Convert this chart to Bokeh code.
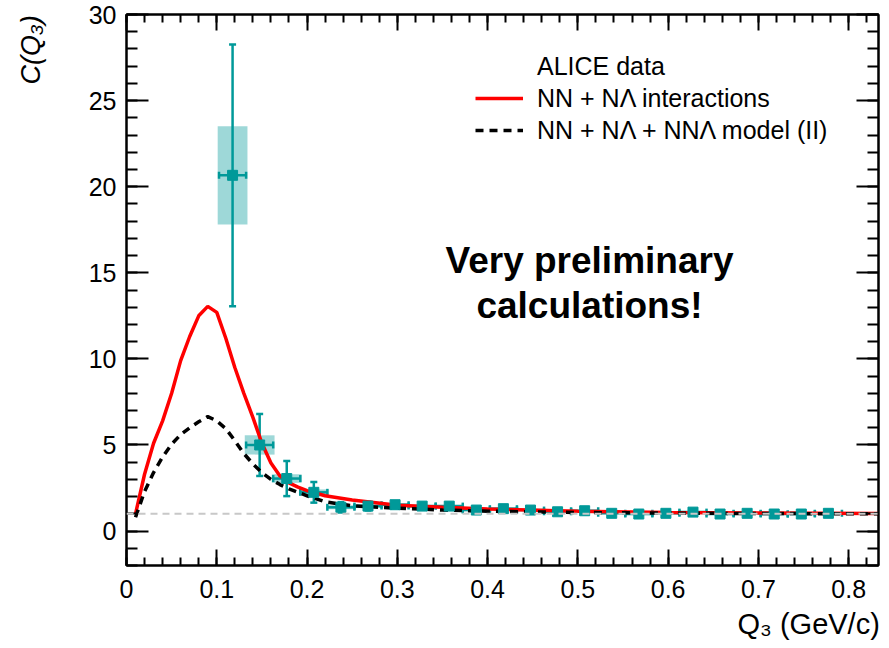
from bokeh.plotting import figure
from bokeh.models import (ColumnDataSource, FixedTicker, LinearAxis, Range1d, Whisker,
                          TeeHead, Label, Legend, LegendItem, Span)
from bokeh.embed import file_html
from bokeh.resources import INLINE

# ---------------- data ----------------
q3 = [0.1175, 0.1475, 0.1775, 0.2075, 0.2375, 0.2675, 0.2975, 0.3275, 0.3575, 0.3875,
      0.4175, 0.4475, 0.4775, 0.5075, 0.5375, 0.5675, 0.5975, 0.6275, 0.6575, 0.6875,
      0.7175, 0.7475, 0.7775]
c_val = [20.66, 5.00, 3.05, 2.25, 1.38, 1.45, 1.53, 1.45, 1.45, 1.22,
         1.30, 1.22, 1.12, 1.18, 1.03, 0.99, 1.03, 1.10, 0.99, 1.03,
         0.99, 0.99, 1.03]
stat_err = [7.6, 1.8, 1.02, 0.6, 0.3, 0.25, 0.2, 0.18, 0.16, 0.15,
            0.14, 0.13, 0.12, 0.12, 0.11, 0.11, 0.1, 0.1, 0.1, 0.1,
            0.1, 0.1, 0.1]
sys_err = [2.85, 0.56, 0.25, 0.17, 0.12, 0.1, 0.09, 0.08, 0.08, 0.07,
           0.07, 0.06, 0.06, 0.06, 0.05, 0.05, 0.05, 0.05, 0.05, 0.05,
           0.05, 0.05, 0.05]
bin_half = [0.015] * len(q3)
sys_half = [0.0165] * len(q3)

red_x = [0.01, 0.02, 0.03, 0.04, 0.05, 0.06, 0.07, 0.08, 0.09, 0.10, 0.11, 0.12, 0.13,
         0.14, 0.15, 0.16, 0.17, 0.18, 0.19, 0.20, 0.22, 0.25, 0.30, 0.35, 0.40, 0.50,
         0.60, 0.70, 0.833]
red_y = [1.0, 3.3, 5.1, 6.4, 8.0, 9.9, 11.3, 12.5, 13.05, 12.7, 11.2, 9.5, 8.0,
         6.6, 5.1, 3.95, 3.2, 2.8, 2.55, 2.35, 2.05, 1.8, 1.5, 1.38, 1.28, 1.15,
         1.08, 1.05, 1.02]

blk_x = [0.01, 0.02, 0.03, 0.04, 0.05, 0.06, 0.07, 0.08, 0.09, 0.10, 0.11, 0.12, 0.13,
         0.14, 0.15, 0.16, 0.17, 0.18, 0.19, 0.20, 0.22, 0.25, 0.30, 0.35, 0.40, 0.50,
         0.60, 0.70, 0.833]
blk_y = [0.8, 2.3, 3.4, 4.3, 5.05, 5.6, 6.0, 6.35, 6.65, 6.4, 5.95, 5.25, 4.5,
         3.9, 3.4, 3.0, 2.7, 2.45, 2.25, 2.05, 1.7, 1.47, 1.33, 1.22, 1.15, 1.08,
         1.04, 1.02, 1.0]

baseline_level = 1.0
x_major = [0, 0.1, 0.2, 0.3, 0.4, 0.5, 0.6, 0.7, 0.8]
x_minor = [round(i * 0.02, 2) for i in range(0, 42)]
y_major = [0, 5, 10, 15, 20, 25, 30]
y_minor = list(range(-2, 31))

legend_labels = ["ALICE data", "NN + N\u039b interactions", "NN + N\u039b + NN\u039b model (II)"]
x_title = "Q\u2083  (GeV/c)"
y_title = "C(Q\u2083)"
note_lines = ["Very preliminary", "calculations!"]

# ---------------- layout geometry ----------------
X0, X1 = 0.0, 0.833
Y0, Y1 = -2.0, 30.0
FL, FT, FW, FH = 126, 14, 752, 551   # frame left/top/width/height (canvas px)
W, H = 884, 646

def px2x(px):
    return X0 + (px - FL) * (X1 - X0) / FW

def py2y(py):
    return Y1 - (py - FT) * (Y1 - Y0) / FH

TEAL = "#009999"
FONT = "Liberation Sans"
NBSP = "\u00a0"

p = figure(width=W, height=H, output_backend="svg", toolbar_location=None,
           x_range=Range1d(X0, X1), y_range=Range1d(Y0, Y1),
           min_border_left=FL, min_border_top=FT,
           min_border_right=W - FL - FW, min_border_bottom=H - FT - FH)
p.background_fill_color = "white"
p.border_fill_color = "white"
p.outline_line_color = "black"
p.outline_line_width = 2
p.xgrid.grid_line_color = None
p.ygrid.grid_line_color = None

p.add_layout(Span(location=baseline_level, dimension="width", line_color="#c8c8c8",
                  line_width=2, line_dash="7 5"))

src = ColumnDataSource(dict(
    x=q3, y=c_val,
    ylo=[v - e for v, e in zip(c_val, stat_err)],
    yhi=[v + e for v, e in zip(c_val, stat_err)],
    xlo=[x - h for x, h in zip(q3, bin_half)],
    xhi=[x + h for x, h in zip(q3, bin_half)],
    bl=[x - h for x, h in zip(q3, sys_half)],
    br=[x + h for x, h in zip(q3, sys_half)],
    bb=[v - e for v, e in zip(c_val, sys_err)],
    bt=[v + e for v, e in zip(c_val, sys_err)],
))

p.quad(left="bl", right="br", bottom="bb", top="bt", source=src,
       fill_color=TEAL, fill_alpha=0.38, line_color=None)

r_red = p.line(red_x, red_y, line_color="#ff0000", line_width=3.5)
r_blk = p.line(blk_x, blk_y, line_color="black", line_width=3.5, line_dash="8 6")

p.add_layout(Whisker(source=src, base="x", lower="ylo", upper="yhi", dimension="height",
                     line_color=TEAL, line_width=2.5,
                     upper_head=TeeHead(size=7, line_color=TEAL, line_width=2.5),
                     lower_head=TeeHead(size=7, line_color=TEAL, line_width=2.5)))
p.add_layout(Whisker(source=src, base="y", lower="xlo", upper="xhi", dimension="width",
                     line_color=TEAL, line_width=2.5,
                     upper_head=TeeHead(size=7, line_color=TEAL, line_width=2.5),
                     lower_head=TeeHead(size=7, line_color=TEAL, line_width=2.5)))
r_pts = p.scatter("x", "y", source=src, marker="square", size=10,
                  fill_color=TEAL, line_color=TEAL)

r_dummy = p.scatter([], [], marker="square", size=10, fill_alpha=0, line_alpha=0)

# ---------------- axes ----------------
def style_axis(ax, tick_in, minor_in, ticks, labels=True):
    ax.axis_line_width = 2
    ax.major_tick_in = tick_in
    ax.major_tick_out = 0
    ax.minor_tick_in = minor_in
    ax.minor_tick_out = 0
    ax.major_tick_line_width = 2
    ax.minor_tick_line_width = 2
    ax.major_tick_line_color = "black"
    ax.minor_tick_line_color = "black"
    if labels:
        ax.major_label_text_font = FONT
        ax.major_label_text_font_size = "25px"
        ax.major_label_text_color = "black"
    else:
        ax.major_label_overrides = {t: "" for t in ticks}
        ax.major_label_text_font_size = "8px"
        ax.major_label_standoff = 0

# x title: centred label padded on the left so its visible part ends at the frame's right edge
XT_SIZE = 29
xt_visible = (0.778 + 0.35 + 0.278 * 2 + 0.333 + 0.778 + 0.556 + 0.667 + 0.278 + 0.5 + 0.333) * XT_SIZE
xt_pad = int(round((FW - xt_visible) / (0.278 * XT_SIZE))) + 2

YT_SIZE = 27
yt_visible = (0.722 + 0.333 + 0.778 + 0.35 + 0.333) * YT_SIZE
yt_pad = int(round((FH - yt_visible) / (0.278 * YT_SIZE)))

xb = p.xaxis[0]
xb.ticker = FixedTicker(ticks=x_major, minor_ticks=x_minor)
style_axis(xb, 16, 8, x_major)
xb.major_label_overrides = {0: "0"}
xb.major_label_standoff = 14
xb.axis_label = NBSP * xt_pad + x_title
xb.axis_label_text_font = FONT
xb.axis_label_text_font_size = f"{XT_SIZE}px"
xb.axis_label_text_font_style = "normal"
xb.axis_label_text_color = "black"
xb.axis_label_standoff = 7

yl = p.yaxis[0]
yl.ticker = FixedTicker(ticks=y_major, minor_ticks=y_minor)
style_axis(yl, 22, 11, y_major)
yl.major_label_standoff = 10
yl.axis_label = NBSP * yt_pad + y_title
yl.axis_label_text_font = FONT
yl.axis_label_text_font_size = f"{YT_SIZE}px"
yl.axis_label_text_font_style = "italic"
yl.axis_label_text_color = "black"
yl.axis_label_standoff = 40

xt = LinearAxis(ticker=FixedTicker(ticks=x_major, minor_ticks=x_minor))
style_axis(xt, 16, 8, x_major, labels=False)
p.add_layout(xt, "above")
yr = LinearAxis(ticker=FixedTicker(ticks=y_major, minor_ticks=y_minor))
style_axis(yr, 22, 11, y_major, labels=False)
p.add_layout(yr, "right")

# ---------------- legend ----------------
legend = Legend(items=[LegendItem(label=legend_labels[0], renderers=[r_dummy]),
                       LegendItem(label=legend_labels[1], renderers=[r_red]),
                       LegendItem(label=legend_labels[2], renderers=[r_blk])],
                location=(349, 419), border_line_color=None, background_fill_alpha=0,
                label_text_font=FONT, label_text_font_size="25px", label_text_color="black",
                glyph_width=48, glyph_height=32, label_height=32, spacing=0,
                padding=0, margin=0, label_standoff=14)
p.add_layout(legend)

# ---------------- annotation text ----------------
for txt, py in zip(note_lines, [260, 305]):
    p.add_layout(Label(x=px2x(589), y=py2y(py), text=txt, text_align="center",
                       text_baseline="alphabetic", text_font=FONT,
                       text_font_size="37px", text_font_style="bold", text_color="black"))

open("out.html", "w").write(file_html(p, INLINE))
